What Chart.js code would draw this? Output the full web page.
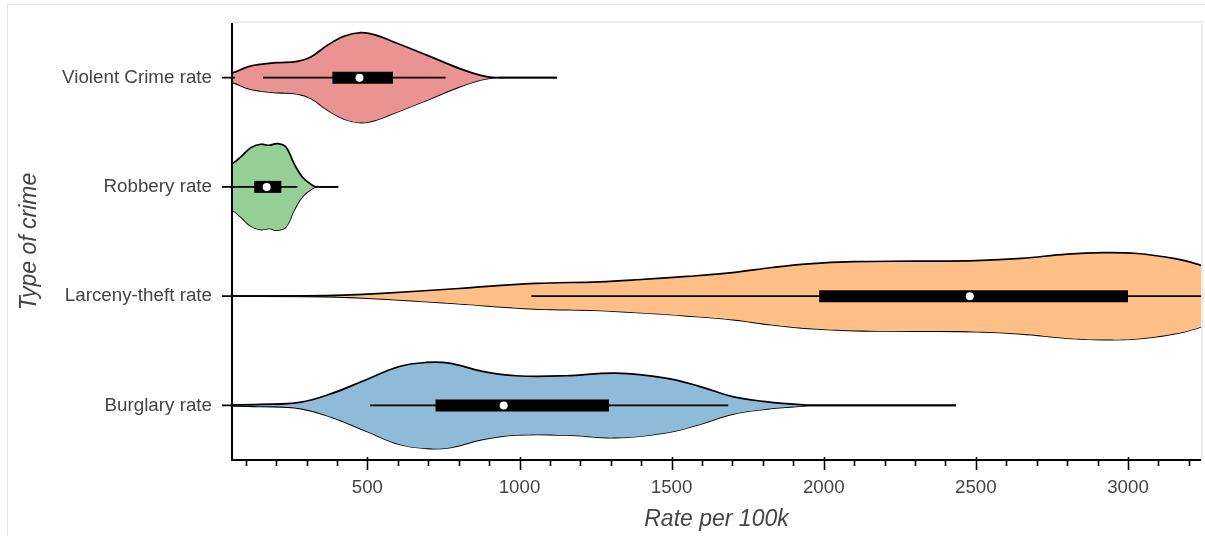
<!DOCTYPE html>
<html>
<head>
<meta charset="utf-8">
<title>Crime rates per 100k</title>
<script src="https://cdn.jsdelivr.net/npm/chart.js@4.4.1/dist/chart.umd.min.js"></script>
<style>
  html, body { margin: 0; padding: 0; background: #fff; }
</style>
</head>
<body>
<canvas id="myChart" width="1205" height="536"></canvas>
<script>
// categories from bottom to top of the y axis
const categories = ['Burglary rate', 'Larceny-theft rate', 'Robbery rate', 'Violent Crime rate'];
const fillColors = ['#8fbbd9', '#ffbf86', '#95cf95', '#ea9393'];

// violin outlines: rate values and half width (share of one category step)
const burglaryRates  = [0, 150, 277, 386, 496, 605, 693, 769, 879, 988, 1153, 1317, 1481, 1591, 1700, 1800, 1900, 1960, 1990, 2435];
const burglaryWidths = [0.002, 0.009, 0.027, 0.112, 0.235, 0.356, 0.393, 0.387, 0.311, 0.271, 0.271, 0.295, 0.250, 0.174, 0.080, 0.037, 0.011, 0, 0, 0];

const larcenyRates  = [0, 300, 422, 548, 800, 1051, 1262, 1400, 1550, 1700, 1830, 1950, 2100, 2300, 2500, 2650, 2800, 2920, 3030, 3150, 3227, 3350, 3480, 3600];
const larcenyWidths = [0, 0.002, 0.009, 0.025, 0.070, 0.116, 0.131, 0.152, 0.180, 0.215, 0.262, 0.295, 0.315, 0.320, 0.325, 0.345, 0.385, 0.398, 0.390, 0.345, 0.293, 0.183, 0.055, 0];

const robberyRates  = [0, 56, 84, 117, 149, 177, 204, 232, 259, 286, 314, 330, 345, 404];
const robberyWidths = [0.150, 0.213, 0.274, 0.359, 0.390, 0.381, 0.396, 0.366, 0.213, 0.091, 0.025, 0, 0, 0];

const violentRates  = [0, 56, 106, 149, 204, 270, 314, 368, 423, 478, 522, 587, 697, 806, 872, 916, 940, 1123];
const violentWidths = [0.025, 0.043, 0.098, 0.122, 0.137, 0.149, 0.189, 0.295, 0.378, 0.411, 0.393, 0.326, 0.204, 0.080, 0.021, 0, 0, 0];

// box stats, same order as categories
const whiskerLow  = [509, 1039, 40, 157];
const whiskerHigh = [1686, 3400, 270, 757];
const q1      = [724, 1985, 128, 385];
const q3      = [1294, 3000, 217, 584];
const medians = [948, 2480, 169, 474];

const majorTicks = [500, 1000, 1500, 2000, 2500, 3000];

Chart.defaults.font.family = "'Liberation Sans', Arial, Helvetica, sans-serif";

const violins = [
  [burglaryRates, burglaryWidths],
  [larcenyRates, larcenyWidths],
  [robberyRates, robberyWidths],
  [violentRates, violentWidths]
];

const datasets = [];
violins.forEach(function (v, i) {
  const rates = v[0], widths = v[1];
  const common = {
    borderColor: '#000',
    borderWidth: 1.7,
    pointRadius: 0,
    tension: 0.4,
    clip: 0,
    order: 4
  };
  datasets.push(Object.assign({}, common, {
    data: rates.map((r, k) => ({x: r, y: i + widths[k]})),
    backgroundColor: fillColors[i],
    fill: '+1'
  }));
  datasets.push(Object.assign({}, common, {
    data: rates.map((r, k) => ({x: r, y: i - widths[k]})),
    fill: false
  }));
});

categories.forEach(function (c, i) {
  // whisker
  datasets.push({
    data: [{x: whiskerLow[i], y: i}, {x: whiskerHigh[i], y: i}],
    borderColor: '#000', borderWidth: 1.6, pointRadius: 0, clip: 0, order: 3
  });
  // inter-quartile box
  datasets.push({
    data: [{x: q1[i], y: i}, {x: q3[i], y: i}],
    borderColor: '#000', borderWidth: 12, borderCapStyle: 'butt', pointRadius: 0, clip: 0, order: 2
  });
});

datasets.push({
  data: medians.map((m, i) => ({x: m, y: i})),
  showLine: false,
  pointRadius: 4,
  pointBackgroundColor: '#fff',
  pointBorderWidth: 0,
  order: 1
});

// frame, axis lines and tick marks (major + minor)
const axesPlugin = {
  id: 'axesPlugin',
  beforeDraw(chart) {
    const c = chart.ctx, a = chart.chartArea;
    c.save();
    c.strokeStyle = '#e3e3e3';
    c.lineWidth = 1;
    c.beginPath();
    c.moveTo(7.5, 536); c.lineTo(7.5, 4.5); c.lineTo(1205, 4.5);
    c.stroke();
    c.strokeStyle = '#ebebeb';
    c.lineWidth = 2;
    c.beginPath();
    c.moveTo(a.left, a.top - 1); c.lineTo(a.right + 1, a.top - 1); c.lineTo(a.right + 1, a.bottom);
    c.stroke();
    c.restore();
  },
  afterDatasetsDraw(chart) {
    const c = chart.ctx, a = chart.chartArea;
    const xs = chart.scales.x, ys = chart.scales.y;
    c.save();
    c.strokeStyle = '#000';
    c.lineWidth = 2;
    c.beginPath();
    c.moveTo(a.left, a.top); c.lineTo(a.left, a.bottom); c.lineTo(a.right, a.bottom);
    c.stroke();
    c.lineWidth = 1.6;
    c.beginPath();
    xs.ticks.forEach(function (t) {
      const px = Math.round(xs.getPixelForValue(t.value)) + 0.5;
      const major = majorTicks.includes(t.value);
      c.moveTo(px, a.bottom - (major ? 3 : 0));
      c.lineTo(px, a.bottom + (major ? 10 : 6));
    });
    ys.ticks.forEach(function (t) {
      const py = ys.getPixelForValue(t.value);
      c.moveTo(a.left - 10, py);
      c.lineTo(a.left + 3, py);
    });
    c.stroke();
    c.restore();
  }
};

new Chart(document.getElementById('myChart'), {
  type: 'line',
  data: { datasets: datasets },
  options: {
    responsive: false,
    animation: false,
    layout: { padding: { top: 23, right: 3, left: 0, bottom: 0 } },
    plugins: {
      legend: { display: false },
      tooltip: { enabled: false }
    },
    scales: {
      x: {
        type: 'linear',
        min: 55,
        max: 3240,
        border: { display: false },
        grid: { drawOnChartArea: false, drawTicks: true, tickLength: 10, tickColor: 'rgba(0,0,0,0)' },
        ticks: {
          stepSize: 100,
          includeBounds: false,
          autoSkip: false,
          maxRotation: 0,
          padding: 7,
          color: '#444',
          font: { size: 18.7 },
          callback: v => majorTicks.includes(v) ? String(v) : ''
        },
        title: {
          display: true,
          text: 'Rate per 100k',
          color: '#444',
          font: { size: 23, style: 'italic' },
          padding: { top: 0, bottom: 3 }
        },
        afterFit: s => { s.height = 76; }
      },
      y: {
        type: 'linear',
        min: -0.5,
        max: 3.5,
        border: { display: false },
        grid: { drawOnChartArea: false, drawTicks: true, tickLength: 10, tickColor: 'rgba(0,0,0,0)' },
        afterBuildTicks: s => { s.ticks = categories.map((c, i) => ({ value: i })); },
        ticks: {
          autoSkip: false,
          padding: 10,
          color: '#444',
          font: { size: 18.8 },
          callback: v => categories[v] || ''
        },
        title: {
          display: true,
          text: 'Type of crime',
          color: '#444',
          font: { size: 23, style: 'italic' },
          padding: { top: 16, bottom: 0 }
        },
        afterFit: s => { s.width = 232; }
      }
    }
  },
  plugins: [axesPlugin]
});
</script>
</body>
</html>
